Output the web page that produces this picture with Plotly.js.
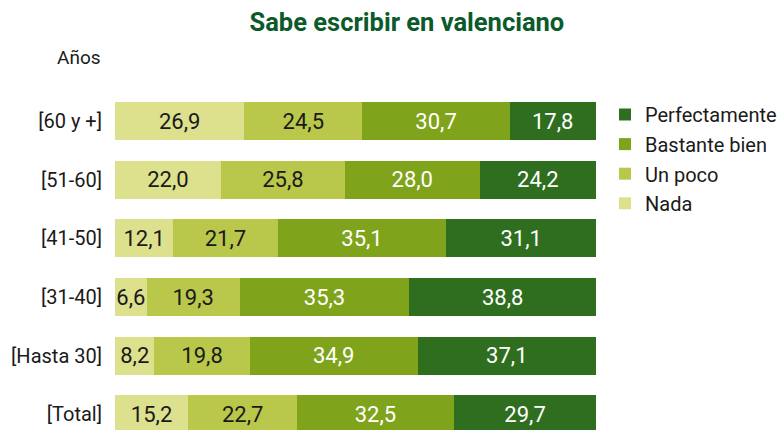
<!DOCTYPE html>
<html>
<head>
<meta charset="utf-8">
<script src="https://cdn.plot.ly/plotly-3.0.1.min.js"></script>
<style>html,body{margin:0;padding:0;background:#fff}#chart{width:778px;height:430px}</style>
</head>
<body>
<div id="chart"></div>
<script>
var categories = ["[60 y +]", "[51-60]", "[41-50]", "[31-40]", "[Hasta 30]", "[Total]"];
var nada = [26.9, 22.0, 12.1, 6.6, 8.2, 15.2];
var unPoco = [24.5, 25.8, 21.7, 19.3, 19.8, 22.7];
var bastanteBien = [30.7, 28.0, 35.1, 35.3, 34.9, 32.5];
var perfectamente = [17.8, 24.2, 31.1, 38.8, 37.1, 29.7];
var seriesNames = ["Nada", "Un poco", "Bastante bien", "Perfectamente"];

var seriesVals = [nada, unPoco, bastanteBien, perfectamente];
var colors = ["#dde08c", "#b9c74a", "#7fa41b", "#2f6e1f"];
var textColors = ["#1a1a1a", "#1a1a1a", "#ffffff", "#ffffff"];

function fmt(v) { return v.toFixed(1).replace(".", ","); }

var traces = seriesVals.map(function (vals, i) {
  return {
    type: "bar",
    orientation: "h",
    name: seriesNames[i],
    legendgroup: "g" + i,
    legendrank: 10 - i,
    y: categories,
    x: vals,
    text: vals.map(fmt),
    textposition: "inside",
    insidetextanchor: "middle",
    textangle: 0,
    constraintext: "none",
    textfont: { family: "Roboto, sans-serif", size: 22, color: textColors[i] },
    marker: { color: colors[i], line: { width: 0 } },
    hoverinfo: "skip"
  };
});

var layout = {
  width: 778,
  height: 430,
  barmode: "stack",
  bargap: 0.35,
  margin: { l: 115, r: 182, t: 92, b: 0 },
  paper_bgcolor: "#ffffff",
  plot_bgcolor: "#ffffff",
  font: { family: "Roboto, sans-serif", color: "#1a1a1a" },
  title: {
    text: "<b>Sabe escribir en valenciano</b>",
    font: { family: "Roboto, sans-serif", size: 25.5, color: "#0b5a2a" },
    xref: "container", yref: "container",
    x: 0.523, xanchor: "center",
    y: 1 - 22 / 430, yanchor: "middle"
  },
  xaxis: {
    range: [0, 100],
    visible: false,
    showgrid: false,
    zeroline: false,
    fixedrange: true
  },
  yaxis: {
    type: "category",
    categoryorder: "array",
    categoryarray: categories,
    range: [5.27, -0.5],
    showgrid: false,
    zeroline: false,
    showline: false,
    ticks: "",
    ticklabelstandoff: 12,
    tickfont: { family: "Roboto, sans-serif", size: 20, color: "#1a1a1a" }
  },
  legend: {
    traceorder: "grouped",
    tracegroupgap: 0.6,
    x: 605 / 778, xref: "container", xanchor: "left",
    y: 1 - 95 / 430, yref: "container", yanchor: "top",
    font: { family: "Roboto, sans-serif", size: 20, color: "#1a1a1a" },
    bgcolor: "rgba(0,0,0,0)",
    itemwidth: 30
  },
  annotations: [{
    text: "Años",
    xref: "paper", yref: "paper",
    x: 0, y: 1,
    xanchor: "right", yanchor: "middle",
    xshift: -12, yshift: 35,
    showarrow: false,
    font: { family: "Roboto, sans-serif", size: 19, color: "#1a1a1a" }
  }],
  showlegend: true
};

Plotly.newPlot("chart", traces, layout, { displayModeBar: false, staticPlot: true });
</script>
</body>
</html>
